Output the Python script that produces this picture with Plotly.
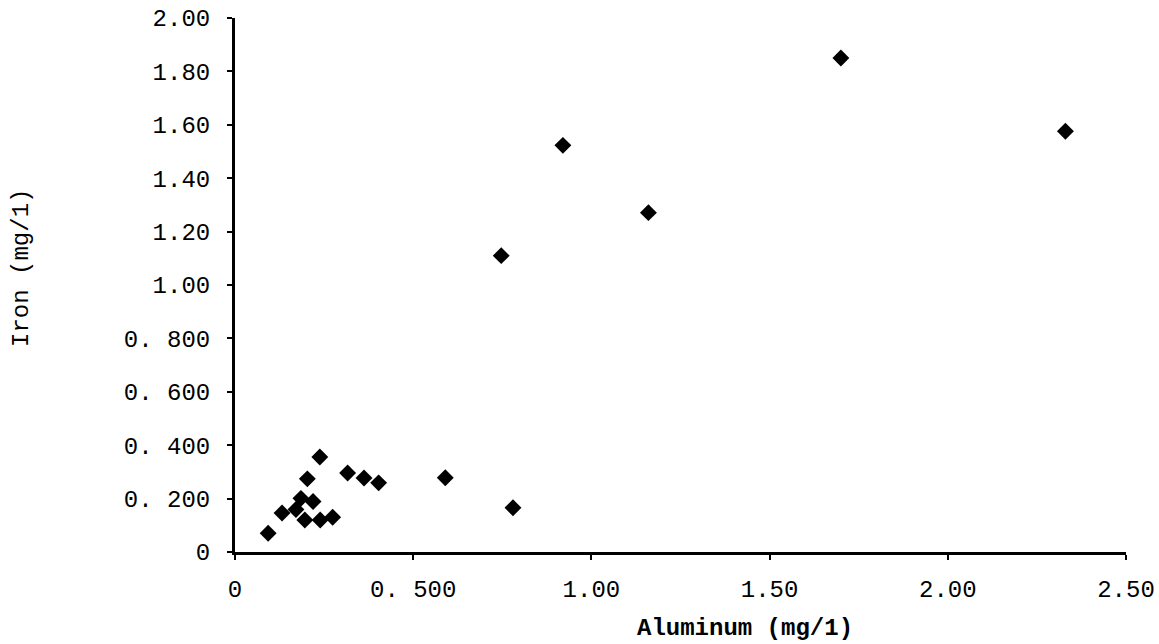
import plotly.graph_objects as go

aluminum = [0.093, 0.132, 0.171, 0.196, 0.185, 0.219, 0.203, 0.238, 0.239, 0.274,
            0.316, 0.362, 0.403, 0.590, 0.780, 0.747, 0.920, 1.160, 1.700, 2.330]
iron = [0.070, 0.146, 0.159, 0.120, 0.201, 0.189, 0.274, 0.356, 0.120, 0.130,
        0.296, 0.277, 0.259, 0.278, 0.166, 1.110, 1.523, 1.271, 1.850, 1.576]

x_tick_vals = [0, 0.5, 1.0, 1.5, 2.0, 2.5]
x_tick_text = ["0", "0. 500", "1.00", "1.50", "2.00", "2.50"]
y_tick_vals = [0, 0.2, 0.4, 0.6, 0.8, 1.0, 1.2, 1.4, 1.6, 1.8, 2.0]
y_tick_text = ["0", "0. 200", "0. 400", "0. 600", "0. 800", "1.00", "1.20",
               "1.40", "1.60", "1.80", "2.00"]

mono = "Liberation Mono"

fig = go.Figure()
fig.add_trace(go.Scatter(
    x=aluminum, y=iron, mode="markers",
    marker=dict(symbol="diamond", size=13, color="black"),
    cliponaxis=False, showlegend=False,
))

fig.update_layout(
    width=1159, height=644,
    margin=dict(l=235, r=33, t=18, b=92),
    paper_bgcolor="white", plot_bgcolor="white",
    font=dict(family=mono, color="black", size=24),
    xaxis=dict(
        range=[0, 2.5], tickvals=x_tick_vals, ticktext=x_tick_text,
        showgrid=False, zeroline=False, showline=True, linecolor="black",
        linewidth=3, ticks="outside", ticklen=5, tickwidth=2, tickcolor="black",
        ticklabelstandoff=8, tickfont=dict(family=mono, size=24),
        automargin=False,
    ),
    yaxis=dict(
        range=[0, 2.0], tickvals=y_tick_vals, ticktext=y_tick_text,
        showgrid=False, zeroline=False, showline=True, linecolor="black",
        linewidth=3, ticks="outside", ticklen=5, tickwidth=2, tickcolor="black",
        ticklabelstandoff=12, tickfont=dict(family=mono, size=24),
        automargin=False,
    ),
    annotations=[
        dict(text="<b>Aluminum (mg/1)</b>", xref="paper", yref="paper",
             x=0.572, y=-0.144, showarrow=False, xanchor="center", yanchor="middle",
             font=dict(family=mono, size=24, color="black")),
        dict(text="Iron (mg/1)", xref="paper", yref="paper",
             x=-0.239, y=0.532, showarrow=False, textangle=-90,
             xanchor="center", yanchor="middle",
             font=dict(family=mono, size=24, color="black")),
    ],
)

fig.write_html("out.html")
